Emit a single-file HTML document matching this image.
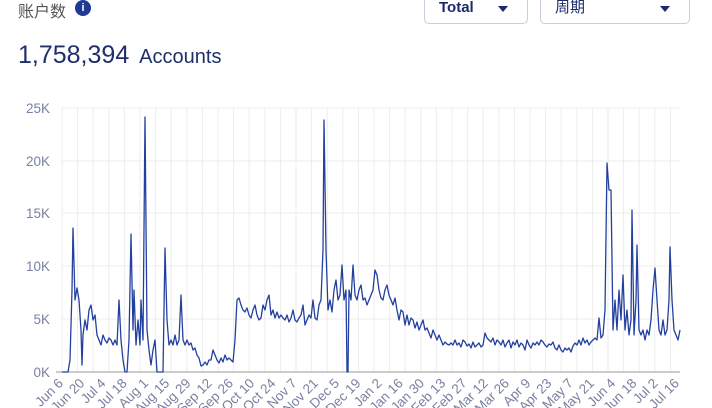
<!DOCTYPE html>
<html><head><meta charset="utf-8"><style>
body{margin:0;width:712px;height:408px;overflow:hidden;background:#fff;font-family:"Liberation Sans","Noto Sans CJK SC",sans-serif;}
.h{position:absolute;left:18px;top:-2px;font-size:16px;color:#555;}
.i{position:absolute;left:75px;top:0px;width:16px;height:16px;border-radius:50%;background:#1f3a93;color:#fff;font-size:11px;font-weight:bold;text-align:center;line-height:16px;}
.dd{position:absolute;top:-6px;height:30px;border:1px solid #ccd;border-radius:5px;box-sizing:border-box;font-size:15px;color:#1a2a6c;line-height:26px;padding-left:14px;}
.ar{position:absolute;top:11px;width:0;height:0;border-left:5px solid transparent;border-right:5px solid transparent;border-top:6px solid #1a2a6c;}
.t{position:absolute;left:18px;top:41px;color:#1f2f6a;font-size:25px;}
.t span{font-size:20px;margin-left:3px;}
</style></head><body>
<div class="h">账户数</div><div class="i">i</div>
<div class="dd" style="left:424px;width:104px;font-weight:bold;">Total<div class="ar" style="left:73px"></div></div>
<div class="dd" style="left:540px;width:150px;">周期<div class="ar" style="left:119px"></div></div>
<div class="t">1,758,394 <span>Accounts</span></div>
<svg width="712" height="408" style="position:absolute;left:0;top:0" font-family="Liberation Sans, sans-serif">
<g id="grid" stroke="#ececec" stroke-width="1"></g>
<g stroke="#ececec"><line x1="62" x2="680" y1="108" y2="108"/><line x1="62" x2="680" y1="161" y2="161"/><line x1="62" x2="680" y1="213" y2="213"/><line x1="62" x2="680" y1="266" y2="266"/><line x1="62" x2="680" y1="319" y2="319"/></g>
<line x1="56" x2="680" y1="372" y2="372" stroke="#999"/>
<g font-size="13.5" fill="#7a80a0" text-anchor="end">
<text x="50" y="113">25K</text><text x="50" y="166">20K</text><text x="50" y="218">15K</text><text x="50" y="271">10K</text><text x="50" y="324">5K</text><text x="50" y="377">0K</text></g>
<g id="xl" font-size="13.5" fill="#7a80a0" text-anchor="end"></g>
<polyline fill="none" stroke="#2340a0" stroke-width="1.3" stroke-linejoin="round" points="62,372 68,372 70,360 72,290 73,228 75,300 77,288 79,300 81,330 82,365 83,335 85,320 87,330 89,310 91,305 93,320 95,315 97,335 99,340 101,345 103,335 105,340 107,343 109,338 111,340 113,345 115,340 117,345 119,300 121,340 123,360 125,372 127,372 129,340 131,234 133,330 134,290 136,345 138,320 140,345 141,300 143,340 145,117 147,330 149,350 151,365 153,350 155,340 157,372 159,372 161,372 163,372 165,248 167,320 169,345 171,340 173,345 175,335 177,345 179,340 181,295 183,340 185,345 187,340 189,345 191,343 193,350 195,348 197,355 199,358 201,366 203,365 205,362 207,365 209,360 211,360 213,350 215,355 217,360 219,363 221,358 223,362 225,355 227,360 229,358 231,360 233,362 235,340 237,300 239,298 241,305 243,310 245,312 247,308 249,315 251,318 253,310 255,305 257,315 259,320 261,318 263,305 265,310 267,300 269,295 271,315 273,310 275,318 277,312 279,318 281,315 283,318 285,320 287,315 289,322 291,318 293,310 295,320 297,322 299,318 301,315 303,305 305,325 307,320 309,315 311,318 313,300 315,318 317,320 319,305 321,300 323,250 324,120 326,250 328,310 330,300 332,312 334,290 336,280 338,300 340,295 342,265 344,300 346,290 347,372 348,372 349,290 351,300 353,265 355,295 357,300 359,290 361,285 363,300 365,298 367,305 369,300 371,295 373,290 375,270 377,275 379,290 381,298 383,300 385,290 387,285 389,295 391,300 393,305 395,298 397,310 399,320 401,310 403,312 405,325 407,315 409,325 411,318 413,320 415,328 417,322 419,330 421,325 423,320 425,330 427,328 429,333 431,338 433,330 435,335 437,340 439,335 441,340 443,345 445,342 447,344 449,345 451,343 453,345 455,340 457,345 459,343 461,347 463,340 465,342 467,346 469,344 471,348 473,342 475,347 477,345 479,343 481,347 483,345 485,333 487,338 489,340 491,342 493,338 495,345 497,340 499,342 501,345 503,340 505,347 507,343 509,340 511,348 513,342 515,345 517,340 519,347 521,343 523,345 525,350 527,340 529,345 531,348 533,343 535,345 537,342 539,345 541,340 543,342 545,345 547,347 549,344 551,345 553,342 555,348 557,350 559,345 561,350 563,352 565,348 567,350 569,348 571,352 573,346 575,343 577,345 579,340 581,345 583,338 585,343 587,340 589,345 591,342 593,340 595,338 597,340 599,318 601,338 603,335 605,310 607,163 609,190 611,190 613,330 615,300 617,330 619,290 621,320 623,275 625,330 627,310 629,335 631,320 632,210 634,335 636,300 637,245 639,330 641,335 643,330 645,340 647,330 649,335 651,320 653,290 655,268 657,300 659,330 661,335 663,320 665,335 667,330 669,300 670,247 672,300 674,330 676,335 678,340 680,330"/>
</svg>
<script>
var g=document.getElementById('grid'),s='';
for(var x=62;x<=680;x+=15.6)s+='<line x1="'+x+'" x2="'+x+'" y1="108" y2="372"/>';
g.innerHTML=s;
var L="Jun 6,Jun 20,Jul 4,Jul 18,Aug 1,Aug 15,Aug 29,Sep 12,Sep 26,Oct 10,Oct 24,Nov 7,Nov 21,Dec 5,Dec 19,Jan 2,Jan 16,Jan 30,Feb 13,Feb 27,Mar 12,Mar 26,Apr 9,Apr 23,May 7,May 21,Jun 4,Jun 18,Jul 2,Jul 16".split(','),t='';
for(var i=0;i<L.length;i++){var x=(64+i*21.24).toFixed(1);t+='<text transform="translate('+x+',384) rotate(-45)">'+L[i]+'</text>';}
document.getElementById('xl').innerHTML=t;
</script>
</body></html>
